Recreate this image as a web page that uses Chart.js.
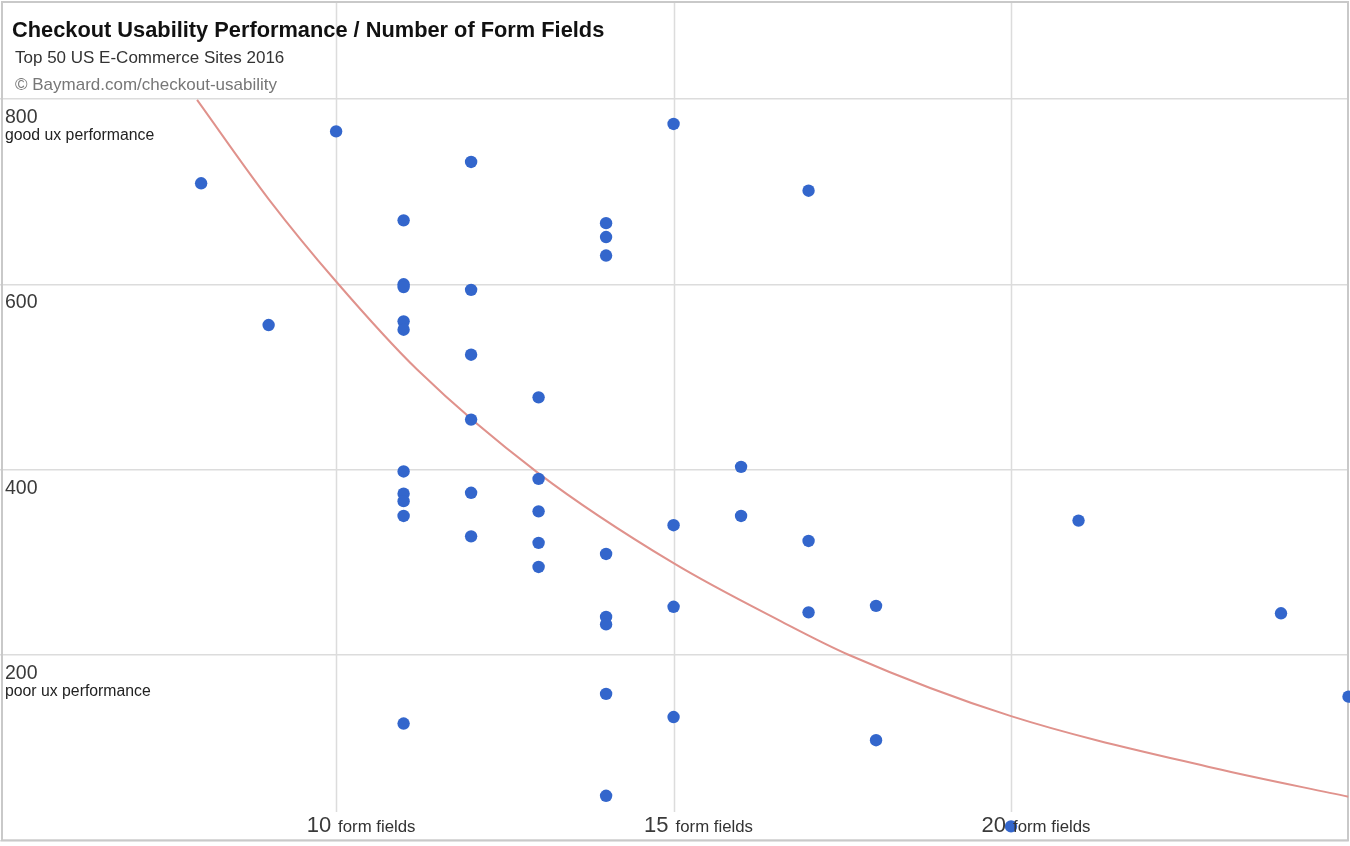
<!DOCTYPE html>
<html><head><meta charset="utf-8">
<script src="https://cdn.jsdelivr.net/npm/chart.js@4.4.1/dist/chart.umd.min.js"></script>
<style>html,body{margin:0;padding:0;background:#fff;overflow:hidden}#wrap{position:relative;width:1350px;height:846px}</style>
</head><body><div id="wrap"><canvas id="c" width="1350" height="846"></canvas></div>
<script>
const chartTitle = "Checkout Usability Performance / Number of Form Fields";
const chartSubtitle = "Top 50 US E-Commerce Sites 2016";
const chartSource = "\u00A9 Baymard.com/checkout-usability";

const formFields = [8,9,10,11,11,11,11,11,11,11,11,11,11,12,12,12,12,12,12,13,13,13,13,13,14,14,14,14,14,14,14,14,15,15,15,15,16,16,17,17,17,18,18,20,21,24,25];
const uxScores   = [709,556,765,669,600,597,560,551,398,374,366,350,126,732,594,524,454,375,328,478,390,355,321,295,666,651,631,309,241,233,158,48,773,340,252,133,403,350,701,323,246,253,108,15,345,245,155];

const trendFields = [7.94,9,10,11.2,13,15,16.6,17.6,20,23,25];
const trendScores = [799,692,603,508,396,299,236,200,134,78,47];

const yTicks = [0,200,400,600,800];
const yTickNotes = {800:"good ux performance", 200:"poor ux performance"};
const xTicks = [5,10,15,20,25];
const xLabelTicks = [10,15,20];
const xUnit = "form fields";

const FONT = "'Liberation Sans', Arial, Helvetica, sans-serif";
const GRID = "#dcdcdc";

const decor = {
  id: 'decor',
  beforeDatasetsDraw(chart) {
    const ctx = chart.ctx, xs = chart.scales.x, a = chart.chartArea;
    ctx.save();
    ctx.strokeStyle = GRID; ctx.lineWidth = 1.5;
    xLabelTicks.forEach(v => {
      const px = Math.round(xs.getPixelForValue(v)) + 0.5;
      ctx.beginPath(); ctx.moveTo(px, 3); ctx.lineTo(px, 812); ctx.stroke();
    });
    ctx.strokeStyle = "#c9c9c9"; ctx.lineWidth = 2;
    ctx.strokeRect(2, 2, 1346, a.bottom - 2);
    ctx.restore();
  },
  afterDraw(chart) {
    const ctx = chart.ctx, xs = chart.scales.x, ys = chart.scales.y;
    ctx.save();
    ctx.textBaseline = 'middle'; ctx.textAlign = 'left';
    ctx.fillStyle = '#111';
    ctx.font = "bold 21.8px " + FONT;
    ctx.fillText(chartTitle, 12, 31);
    ctx.fillStyle = '#333';
    ctx.font = "17px " + FONT;
    ctx.fillText(chartSubtitle, 15, 58);
    ctx.fillStyle = '#777';
    ctx.fillText(chartSource, 15, 85);

    yTicks.forEach(v => {
      if (v === 0) return;
      const py = ys.getPixelForValue(v);
      ctx.fillStyle = '#3a3a3a';
      ctx.font = "19.5px " + FONT;
      ctx.fillText(String(v), 5, py + 18.5);
      if (yTickNotes[v]) {
        ctx.fillStyle = '#222';
        ctx.font = "15.8px " + FONT;
        ctx.fillText(yTickNotes[v], 5, py + 36.5);
      }
    });

    xLabelTicks.forEach(v => {
      const px = xs.getPixelForValue(v);
      ctx.fillStyle = '#3a3a3a';
      ctx.font = "22px " + FONT;
      ctx.textAlign = 'right';
      ctx.fillText(String(v), px - 5, 826);
      ctx.textAlign = 'left';
      ctx.fillStyle = '#333';
      ctx.font = "16.8px " + FONT;
      ctx.fillText(xUnit, px + 2, 827);
    });
    ctx.restore();
  }
};

new Chart(document.getElementById('c'), {
  type: 'scatter',
  data: {
    datasets: [
      {
        data: formFields.map((x, i) => ({x, y: uxScores[i]})),
        backgroundColor: '#3366cc', borderColor: '#3366cc',
        pointRadius: 6.2, pointBorderWidth: 0, order: 1, clip: false
      },
      {
        data: trendFields.map((x, i) => ({x, y: trendScores[i]})),
        showLine: true, pointRadius: 0, borderColor: '#e0928c', borderWidth: 2,
        fill: false, tension: 0.4, cubicInterpolationMode: 'monotone', order: 2
      }
    ]
  },
  options: {
    responsive: false, animation: false, devicePixelRatio: 1,
    layout: { autoPadding: false, padding: { left: 0, right: 1.5, top: 6.3, bottom: 5.7 } },
    plugins: { legend: { display: false }, tooltip: { enabled: false }, title: { display: false } },
    scales: {
      x: {
        type: 'linear', min: 5.02, max: 25,
        afterBuildTicks: s => { s.ticks = xTicks.map(v => ({value: v})); },
        ticks: { display: false },
        grid: { display: false, drawTicks: false },
        border: { display: false }
      },
      y: {
        type: 'linear', min: 0, max: 900,
        afterBuildTicks: s => { s.ticks = yTicks.map(v => ({value: v})); },
        ticks: { display: false },
        grid: { color: GRID, lineWidth: 1.5, drawTicks: false },
        border: { display: false }
      }
    }
  },
  plugins: [decor]
});
</script></body></html>
